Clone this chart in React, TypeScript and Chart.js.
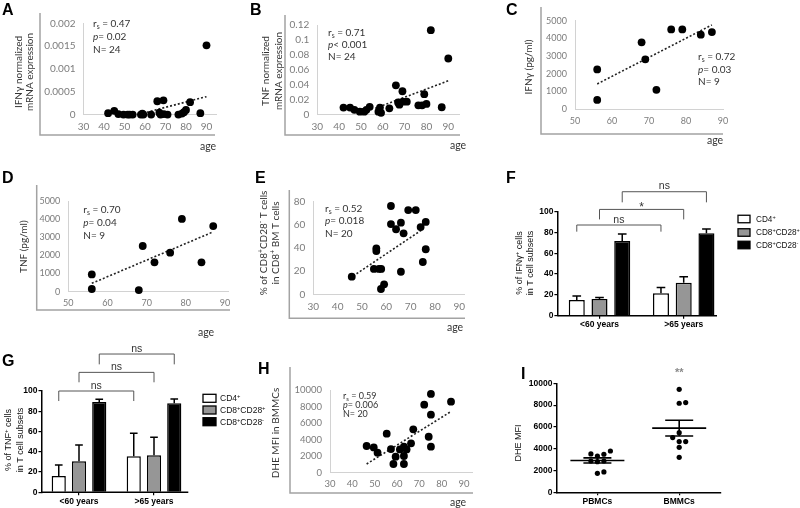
import { useEffect, useRef } from 'react';
import { Chart, registerables } from 'chart.js';

Chart.register(...registerables);

const PAGE_W = 800;
const PAGE_H = 508;

// ================= DATA =================
// Panels A & B (24 patients)
const agesAB = [42, 45, 47, 49.5, 51.5, 52.5, 54, 58, 58.7, 59.2, 63, 66, 67, 67.6, 69, 69.2, 71, 76.3, 78, 79, 80, 82, 87, 90];
const ifngMrnaA = [0.00004, 0.00009, 0.00002, 0.00001, 0.00001, 0.00001, 0.00001, 0.00001, 0.00003, 0.00001, 0.00001, 0.0003, 0.00005, 0.00001, 0.00032, 0.00002, 0.00001, 0.00001, 0.00003, 0.00006, 0.00011, 0.00028, 0.00004, 0.00152];
const trendAgeA = [59, 90];
const trendA = [0.00004, 0.0004];
const yTicksA = [0, 0.0005, 0.001, 0.0015, 0.002];
const xTicksAB = [30, 40, 50, 60, 70, 80, 90];

const tnfMrnaB = [0.009, 0.009, 0.006, 0.0035, 0.0035, 0.006, 0.01, 0.0035, 0.009, 0.002, 0.008, 0.039, 0.016, 0.013, 0.031, 0.017, 0.017, 0.012, 0.012, 0.027, 0.014, 0.113, 0.0095, 0.075];
const trendAgeB = [56.5, 90];
const trendB = [0.008, 0.045];
const yTicksB = [0, 0.02, 0.04, 0.06, 0.08, 0.1, 0.12];

// Panels C & D (9 patients)
const agesCD = [56, 56, 68, 69, 72, 76, 79, 84, 87];
const ifngC = [2250, 530, 3780, 2820, 1100, 4510, 4510, 4210, 4360];
const trendAgeC = [56, 87];
const trendC = [1430, 4760];
const tnfD = [955, 150, 90, 2520, 1620, 2150, 4010, 1620, 3620];
const trendAgeD = [56, 87];
const trendD = [460, 3300];
const yTicksCD = [0, 1000, 2000, 3000, 4000, 5000];
const xTicksCD = [50, 60, 70, 80, 90];

// Panel E (20 patients)
const agesE = [45.8, 54.9, 57.0, 57.9, 55.9, 55.9, 57.8, 59.1, 61.9, 61.9, 64.0, 66.0, 67.1, 66.0, 69.0, 72.1, 74.1, 76.2, 76.2, 75.0];
const cd28negE = [15.2, 21.9, 21.9, 21.9, 39.7, 37.4, 4.6, 8.6, 76.3, 60.7, 56.2, 61.9, 52.7, 19.5, 72.8, 72.8, 58.1, 62.5, 38.9, 27.9];
const trendAgeE = [46.4, 75];
const trendE = [15.8, 56.2];
const yTicksE = [0, 20, 40, 60, 80];

// Panel H (20 patients)
const agesH = [46.4, 49.6, 51.3, 55.4, 57.3, 58.4, 59.4, 61.3, 63.1, 63.1, 63.1, 64.3, 66.3, 67.3, 72.2, 75.2, 74.2, 75.2, 75.2, 84.2];
const dheH = [3230, 3060, 2420, 4720, 2860, 1050, 1940, 2820, 3150, 2020, 1050, 2820, 3550, 5240, 8230, 9520, 4350, 7020, 3150, 8590];
const trendAgeH = [46.4, 84.2];
const trendH = [1050, 7400];
const yTicksH = [0, 2000, 4000, 6000, 8000, 10000];

// Panels F & G (bar charts)
const groupLabels = ['<60 years', '>65 years'];
const subsetLabels = ['CD4^+', 'CD8^+CD28^+', 'CD8^+CD28^-'];
const subsetColors = ['#ffffff', '#969696', '#000000'];
const ifngCD4 = [15.1, 21.5];
const ifngCD4Err = [3.8, 5.7];
const ifngCD28pos = [16.0, 31.7];
const ifngCD28posErr = [1.6, 5.8];
const ifngCD28neg = [71.8, 79.2];
const ifngCD28negErr = [6.7, 4.1];
const bracketLevelsF = [87.2, 102.2, 119.2];
const bracketDropsF = [6.4, 9.6, 10.2];
const bracketLabelsF = ['ns', '*', 'ns'];

const tnfCD4 = [16.1, 35.5];
const tnfCD4Err = [10.9, 22.7];
const tnfCD28pos = [30.6, 36.5];
const tnfCD28posErr = [16.1, 17.8];
const tnfCD28neg = [89.1, 87.8];
const tnfCD28negErr = [2.7, 4.3];
const bracketLevelsG = [100, 118.4, 136.5];
const bracketDropsG = [9.9, 9.8, 10.2];
const bracketLabelsG = ['ns', 'ns', 'ns'];
const yTicksPct = [0, 20, 40, 60, 80, 100];

// Panel I
const cellLabels = ['PBMCs', 'BMMCs'];
const dhePBMC = [3790, 3330, 3490, 3520, 2870, 2810, 2870, 1740, 1870];
const dheBMMC = [9450, 8230, 8170, 5470, 5020, 4650, 4650, 4130, 3210];
const sigLabelI = '**';
const sigLevelI = 11150;
const yTicksI = [0, 2000, 4000, 6000, 8000, 10000];

// ================= STYLE =================
const XL = "Lato, 'DejaVu Sans', sans-serif";
const GP = "'Liberation Sans', Arial, 'DejaVu Sans', sans-serif";
const TICK_XL = '#7c7c7c';
const TEXT_XL = '#333333';
const INNER = '#d2d2d2';
const FRAME = '#a3a3a3';

type Area = { l: number; t: number; r: number; b: number };

function layoutFor(area: Area, yW: number, xH: number) {
  return {
    autoPadding: false,
    padding: { left: area.l - yW, top: area.t, right: PAGE_W - area.r, bottom: PAGE_H - area.b - xH },
  };
}

const fmt = (v: number) => String(parseFloat(Number(v).toPrecision(8)));

// ---------- rich text ----------
type Seg = { t: string; sup?: boolean; sub?: boolean; it?: boolean };
function parseRich(s: string): Seg[] {
  const out: Seg[] = [];
  let it = false;
  let buf = '';
  const flush = () => {
    if (buf) { out.push({ t: buf, it }); buf = ''; }
  };
  for (let i = 0; i < s.length; i++) {
    const c = s[i];
    if (c === '~') { flush(); it = !it; }
    else if (c === '^' || c === '_') {
      flush();
      out.push({ t: s[i + 1], sup: c === '^', sub: c === '_', it });
      i++;
    } else buf += c;
  }
  flush();
  return out;
}

type TxtOpt = { size: number; family: string; color: string; weight?: string; align?: 'left' | 'center' | 'right'; rotate?: boolean };
function drawRich(ctx: CanvasRenderingContext2D, s: string, x: number, y: number, o: TxtOpt) {
  const segs = parseRich(s);
  const fontOf = (g: Seg) => `${g.it ? 'italic ' : ''}${o.weight || 'normal'} ${g.sup || g.sub ? o.size * 0.68 : o.size}px ${o.family}`;
  ctx.save();
  let w = 0;
  for (const g of segs) { ctx.font = fontOf(g); w += ctx.measureText(g.t).width; }
  ctx.translate(x, y);
  if (o.rotate) ctx.rotate(-Math.PI / 2);
  let cx = o.align === 'center' ? -w / 2 : o.align === 'right' ? -w : 0;
  ctx.textBaseline = 'alphabetic';
  ctx.textAlign = 'left';
  ctx.fillStyle = o.color;
  for (const g of segs) {
    ctx.font = fontOf(g);
    const dy = g.sup ? -o.size * 0.38 : g.sub ? o.size * 0.22 : 0;
    ctx.fillText(g.t, cx, dy);
    cx += ctx.measureText(g.t).width;
  }
  ctx.restore();
}

function midText(ctx: CanvasRenderingContext2D, s: string, x: number, cy: number, o: TxtOpt) {
  drawRich(ctx, s, x, cy + o.size * 0.36, o);
}
function rotTitle(ctx: CanvasRenderingContext2D, s: string, cx: number, cy: number, o: TxtOpt) {
  drawRich(ctx, s, cx + o.size * 0.36, cy, { ...o, rotate: true, align: 'center' });
}
function letter(ctx: CanvasRenderingContext2D, t: string, x: number, baseline: number) {
  drawRich(ctx, t, x, baseline, { size: 16, family: GP, color: '#000', weight: 'bold' });
}

const baseOptions = {
  responsive: false,
  maintainAspectRatio: false,
  animation: false as const,
  events: [] as any[],
  devicePixelRatio: 1,
};
const noPlugins = { legend: { display: false }, tooltip: { enabled: false }, title: { display: false } };

// ================= EXCEL-STYLE SCATTER PANELS =================
interface ExcelPanel {
  area: Area;
  xMin: number; xMax: number; xTicks: number[];
  yMax: number; yTicks: number[];
  xs: number[]; ys: number[]; tx: number[]; ty: number[];
  frame: { x: number; top: number; y: number; right: number };
  letter: { t: string; x: number; y: number };
  yTitle: { lines: string[]; xs: number[]; cy: number };
  stats: { lines: string[]; x: number; ys: number[]; size: number };
  age: { x: number; y: number };
  tickSize: number;
}

function excelConfig(p: ExcelPanel): any {
  const yW = 40, xH = 25;
  return {
    type: 'scatter',
    data: {
      datasets: [
        {
          data: p.xs.map((x, i) => ({ x, y: p.ys[i] })),
          pointRadius: 3.9, pointBackgroundColor: '#000', pointBorderWidth: 0, clip: false, showLine: false,
        },
        {
          data: p.tx.map((x, i) => ({ x, y: p.ty[i] })),
          showLine: true, borderColor: '#222', borderWidth: 1.6, borderDash: [2, 2], pointRadius: 0, clip: false, fill: false,
        },
      ],
    },
    options: {
      ...baseOptions,
      layout: layoutFor(p.area, yW, xH),
      plugins: noPlugins,
      scales: {
        x: {
          type: 'linear', min: p.xMin, max: p.xMax,
          afterFit: (s: any) => { s.height = xH; },
          afterBuildTicks: (s: any) => { s.ticks = p.xTicks.map((v) => ({ value: v })); },
          grid: { display: false, drawTicks: false },
          border: { display: true, color: INNER, width: 1 },
          ticks: { font: { family: XL, size: p.tickSize }, color: TICK_XL, padding: 6, maxRotation: 0, autoSkip: false, callback: (v: any) => fmt(v) },
        },
        y: {
          type: 'linear', min: 0, max: p.yMax,
          afterFit: (s: any) => { s.width = yW; },
          afterBuildTicks: (s: any) => { s.ticks = p.yTicks.map((v) => ({ value: v })); },
          grid: { display: false, drawTicks: false },
          border: { display: true, color: INNER, width: 1 },
          ticks: { font: { family: XL, size: p.tickSize }, color: TICK_XL, padding: 8, autoSkip: false, callback: (v: any) => fmt(v) },
        },
      },
    },
    plugins: [
      {
        id: 'decor',
        afterDraw(chart: any) {
          const ctx: CanvasRenderingContext2D = chart.ctx;
          ctx.save();
          ctx.strokeStyle = FRAME;
          ctx.lineWidth = 1.5;
          ctx.beginPath();
          ctx.moveTo(p.frame.x, p.frame.top);
          ctx.lineTo(p.frame.x, p.frame.y);
          ctx.lineTo(p.frame.right, p.frame.y);
          ctx.stroke();
          ctx.restore();
          letter(ctx, p.letter.t, p.letter.x, p.letter.y);
          p.yTitle.lines.forEach((ln, i) =>
            rotTitle(ctx, ln, p.yTitle.xs[i], p.yTitle.cy, { size: 10, family: XL, color: TEXT_XL }));
          p.stats.lines.forEach((ln, i) =>
            midText(ctx, ln, p.stats.x, p.stats.ys[i], { size: p.stats.size, family: XL, color: TEXT_XL }));
          midText(ctx, 'age', p.age.x, p.age.y, { size: 10.5, family: XL, color: TEXT_XL, align: 'center' });
        },
      },
    ],
  };
}

// ================= GRAPHPAD BAR PANELS =================
interface BarPanel {
  area: Area;
  axisEnd: number;
  values: number[][];
  errs: number[][];
  levels: number[]; drops: number[]; labels: string[];
  catPct: number; barPct: number;
  letter: { t: string; x: number; y: number };
  yTitle: { lines: string[]; xs: number[]; cy: number };
  legend: { x: number; ys: number[]; w: number; h: number; textX: number; size: number };
}

function barConfig(p: BarPanel): any {
  const yW = 30, xH = 14;
  return {
    type: 'bar',
    data: {
      labels: groupLabels,
      datasets: p.values.map((vals, i) => ({
        label: subsetLabels[i],
        data: vals,
        backgroundColor: subsetColors[i],
        borderColor: '#000',
        borderWidth: 1.5,
        categoryPercentage: p.catPct,
        barPercentage: p.barPct,
      })),
    },
    options: {
      ...baseOptions,
      layout: layoutFor(p.area, yW, xH),
      plugins: noPlugins,
      scales: {
        x: {
          type: 'category', offset: true,
          afterFit: (s: any) => { s.height = xH; },
          grid: { display: true, drawOnChartArea: false, drawTicks: true, tickLength: 3, offset: false, color: '#000', lineWidth: 1.2 },
          border: { display: false },
          ticks: { font: { family: GP, size: 8.5, weight: 'bold' }, color: '#000', padding: 1, maxRotation: 0, autoSkip: false },
        },
        y: {
          type: 'linear', min: 0, max: 100,
          afterFit: (s: any) => { s.width = yW; },
          afterBuildTicks: (s: any) => { s.ticks = yTicksPct.map((v) => ({ value: v })); },
          grid: { display: true, drawOnChartArea: false, drawTicks: true, tickLength: 3, color: '#000', lineWidth: 1.2 },
          border: { display: true, color: '#000', width: 1.5 },
          ticks: { font: { family: GP, size: 8.5, weight: 'bold' }, color: '#000', padding: 1, autoSkip: false },
        },
      },
    },
    plugins: [
      {
        id: 'errbars',
        afterDatasetsDraw(chart: any) {
          const ctx: CanvasRenderingContext2D = chart.ctx;
          const ys = chart.scales.y;
          ctx.save();
          ctx.strokeStyle = '#000';
          ctx.lineWidth = 1.5;
          p.errs.forEach((errArr, di) => {
            const meta = chart.getDatasetMeta(di);
            meta.data.forEach((bar: any, j: number) => {
              const top = ys.getPixelForValue(p.values[di][j] + errArr[j]);
              const cap = bar.width * 0.27;
              ctx.beginPath();
              ctx.moveTo(bar.x, bar.y);
              ctx.lineTo(bar.x, top);
              ctx.moveTo(bar.x - cap, top);
              ctx.lineTo(bar.x + cap, top);
              ctx.stroke();
            });
          });
          ctx.restore();
        },
        afterDraw(chart: any) {
          const ctx: CanvasRenderingContext2D = chart.ctx;
          const ys = chart.scales.y;
          const ca = chart.chartArea;
          ctx.save();
          ctx.strokeStyle = '#000';
          ctx.lineWidth = 1.5;
          ctx.beginPath();
          ctx.moveTo(ca.left, ca.bottom);
          ctx.lineTo(p.axisEnd, ca.bottom);
          ctx.stroke();
          ctx.strokeStyle = '#555';
          ctx.lineWidth = 1;
          p.levels.forEach((lv, di) => {
            const meta = chart.getDatasetMeta(di);
            const x1 = meta.data[0].x, x2 = meta.data[1].x;
            const y = ys.getPixelForValue(lv);
            const yd = ys.getPixelForValue(lv - p.drops[di]);
            ctx.beginPath();
            ctx.moveTo(x1, yd);
            ctx.lineTo(x1, y);
            ctx.lineTo(x2, y);
            ctx.lineTo(x2, yd);
            ctx.stroke();
            const lab = p.labels[di];
            const star = lab.indexOf('*') >= 0;
            drawRich(ctx, lab, (x1 + x2) / 2, star ? y + 2 : y - 2.5, { size: star ? 12 : 10.5, family: GP, color: '#333', align: 'center' });
          });
          ctx.restore();
          ctx.save();
          subsetLabels.forEach((lab, i) => {
            const cy = p.legend.ys[i];
            ctx.fillStyle = subsetColors[i];
            ctx.fillRect(p.legend.x, cy - p.legend.h / 2, p.legend.w, p.legend.h);
            ctx.strokeStyle = '#000';
            ctx.lineWidth = 1.3;
            ctx.strokeRect(p.legend.x, cy - p.legend.h / 2, p.legend.w, p.legend.h);
            midText(ctx, lab, p.legend.textX, cy, { size: p.legend.size, family: GP, color: '#111' });
          });
          ctx.restore();
          letter(ctx, p.letter.t, p.letter.x, p.letter.y);
          p.yTitle.lines.forEach((ln, i) =>
            rotTitle(ctx, ln, p.yTitle.xs[i], p.yTitle.cy, { size: 9, family: GP, color: '#111' }));
        },
      },
    ],
  };
}

// ================= PANEL I (dot plot) =================
function mean(a: number[]) { return a.reduce((s, v) => s + v, 0) / a.length; }
function sem(a: number[]) {
  const m = mean(a);
  const sd = Math.sqrt(a.reduce((s, v) => s + (v - m) * (v - m), 0) / (a.length - 1));
  return sd / Math.sqrt(a.length);
}
function swarm(values: number[], pxPerUnitY: number, unitsPerPxX: number, d: number, dy: number): number[] {
  const order = values.map((_, i) => i).sort((a, b) => values[a] - values[b]);
  const placed: { c: number; y: number }[] = [];
  const res = new Array(values.length).fill(0);
  for (const i of order) {
    const y = values[i] * pxPerUnitY;
    for (let k = 0; k < 12; k++) {
      const c = k === 0 ? 0 : (k % 2 ? 1 : -1) * Math.ceil(k / 2);
      if (placed.every((q) => q.c !== c || Math.abs(q.y - y) >= dy)) {
        placed.push({ c, y });
        res[i] = c * d * unitsPerPxX;
        break;
      }
    }
  }
  return res;
}

function dotConfig(): any {
  const area: Area = { l: 556.5, t: 383.3, r: 720.1, b: 492.3 };
  const yW = 30, xH = 14;
  const xMin = 0.5, xMax = 2.5, yMax = 10000;
  const pxY = (area.b - area.t) / yMax;
  const unitsX = (xMax - xMin) / (area.r - area.l);
  const groups = [dhePBMC, dheBMMC];
  const offs = groups.map((g) => swarm(g, pxY, unitsX, 6.5, 5.5));
  return {
    type: 'scatter',
    data: {
      datasets: groups.map((g, gi) => ({
        label: cellLabels[gi],
        data: g.map((v, i) => ({ x: gi + 1 + offs[gi][i], y: v })),
        pointRadius: 2.6, pointBackgroundColor: '#000', pointBorderWidth: 0, clip: false,
      })),
    },
    options: {
      ...baseOptions,
      layout: layoutFor(area, yW, xH),
      plugins: noPlugins,
      scales: {
        x: {
          type: 'linear', min: xMin, max: xMax,
          afterFit: (s: any) => { s.height = xH; },
          afterBuildTicks: (s: any) => { s.ticks = cellLabels.map((_, i) => ({ value: i + 1 })); },
          grid: { display: true, drawOnChartArea: false, drawTicks: true, tickLength: 3, color: '#000', lineWidth: 1.2 },
          border: { display: true, color: '#000', width: 1.5 },
          ticks: { font: { family: GP, size: 8.5, weight: 'bold' }, color: '#000', padding: 1, maxRotation: 0, autoSkip: false, callback: (v: any) => cellLabels[Math.round(v) - 1] },
        },
        y: {
          type: 'linear', min: 0, max: yMax,
          afterFit: (s: any) => { s.width = yW; },
          afterBuildTicks: (s: any) => { s.ticks = yTicksI.map((v) => ({ value: v })); },
          grid: { display: true, drawOnChartArea: false, drawTicks: true, tickLength: 3, color: '#000', lineWidth: 1.2 },
          border: { display: true, color: '#000', width: 1.5 },
          ticks: { font: { family: GP, size: 8.5, weight: 'bold' }, color: '#000', padding: 1, autoSkip: false, callback: (v: any) => fmt(v) },
        },
      },
    },
    plugins: [
      {
        id: 'meansem',
        afterDatasetsDraw(chart: any) {
          const ctx: CanvasRenderingContext2D = chart.ctx;
          const xs = chart.scales.x, ys = chart.scales.y;
          ctx.save();
          ctx.strokeStyle = '#000';
          ctx.lineWidth = 1.6;
          groups.forEach((g, gi) => {
            const cx = xs.getPixelForValue(gi + 1);
            const m = mean(g), e = sem(g);
            const ym = ys.getPixelForValue(m), yh = ys.getPixelForValue(m + e), yl = ys.getPixelForValue(m - e);
            ctx.beginPath();
            ctx.moveTo(cx - 27, ym); ctx.lineTo(cx + 27, ym);
            ctx.moveTo(cx - 14, yh); ctx.lineTo(cx + 14, yh);
            ctx.moveTo(cx - 14, yl); ctx.lineTo(cx + 14, yl);
            ctx.moveTo(cx, yh); ctx.lineTo(cx, yl);
            ctx.stroke();
          });
          ctx.restore();
          drawRich(ctx, sigLabelI, xs.getPixelForValue(2), ys.getPixelForValue(sigLevelI) + 5, { size: 11, family: GP, color: '#8a8a8a', weight: 'bold', align: 'center' });
          letter(ctx, 'I', 521, 379);
          rotTitle(ctx, 'DHE MFI', 518, 443, { size: 9, family: GP, color: '#111' });
        },
      },
    ],
  };
}

// ================= PANEL CONFIGS =================
const makers: (() => any)[] = [
  () => excelConfig({
    area: { l: 83.5, t: 23.3, r: 216.75, b: 115 },
    xMin: 30, xMax: 95, xTicks: xTicksAB, yMax: 0.002, yTicks: yTicksA,
    xs: agesAB, ys: ifngMrnaA, tx: trendAgeA, ty: trendA,
    frame: { x: 40, top: 13, y: 135, right: 215 },
    letter: { t: 'A', x: 2, y: 15 },
    yTitle: { lines: ['IFNγ normalized', 'mRNA expression'], xs: [18, 29.5], cy: 72 },
    stats: { lines: ['r_s = 0.47', '~p~= 0.02', 'N= 24'], x: 93, ys: [23.5, 36, 49], size: 10 },
    age: { x: 208, y: 146 },
    tickSize: 10,
  }),
  () => excelConfig({
    area: { l: 317.3, t: 25, r: 459.2, b: 114.3 },
    xMin: 30, xMax: 95, xTicks: xTicksAB, yMax: 0.12, yTicks: yTicksB,
    xs: agesAB, ys: tnfMrnaB, tx: trendAgeB, ty: trendB,
    frame: { x: 285, top: 15, y: 135, right: 460 },
    letter: { t: 'B', x: 250, y: 15 },
    yTitle: { lines: ['TNF normalized', 'mRNA expression'], xs: [265, 278], cy: 71 },
    stats: { lines: ['r_s = 0.71', '~p~< 0.001', 'N= 24'], x: 328, ys: [32.3, 44.3, 56.7], size: 10 },
    age: { x: 458, y: 145 },
    tickSize: 10,
  }),
  () => excelConfig({
    area: { l: 575, t: 20.7, r: 723, b: 109.3 },
    xMin: 50, xMax: 90, xTicks: xTicksCD, yMax: 5000, yTicks: yTicksCD,
    xs: agesCD, ys: ifngC, tx: trendAgeC, ty: trendC,
    frame: { x: 541, top: 7, y: 134, right: 723 },
    letter: { t: 'C', x: 506, y: 15 },
    yTitle: { lines: ['IFNγ (pg/ml)'], xs: [528], cy: 67 },
    stats: { lines: ['r_s = 0.72', '~p~= 0.03', 'N= 9'], x: 698, ys: [56, 69.3, 81], size: 10 },
    age: { x: 715, y: 140 },
    tickSize: 9,
  }),
  () => excelConfig({
    area: { l: 68.3, t: 201, r: 228.9, b: 291.7 },
    xMin: 50, xMax: 91, xTicks: xTicksCD, yMax: 5000, yTicks: yTicksCD,
    xs: agesCD, ys: tnfD, tx: trendAgeD, ty: trendD,
    frame: { x: 36.7, top: 185, y: 310, right: 230 },
    letter: { t: 'D', x: 2, y: 183 },
    yTitle: { lines: ['TNF (pg/ml)'], xs: [23.3], cy: 246.7 },
    stats: { lines: ['r_s = 0.70', '~p~= 0.04', 'N= 9'], x: 83.3, ys: [209.3, 222.3, 235], size: 10 },
    age: { x: 206, y: 332 },
    tickSize: 9,
  }),
  () => excelConfig({
    area: { l: 313.3, t: 201.7, r: 464.2, b: 294.3 },
    xMin: 30, xMax: 92, xTicks: xTicksAB, yMax: 80, yTicks: yTicksE,
    xs: agesE, ys: cd28negE, tx: trendAgeE, ty: trendE,
    frame: { x: 289.3, top: 190, y: 318.3, right: 465 },
    letter: { t: 'E', x: 255, y: 183 },
    yTitle: { lines: ['% of CD8^+CD28^- T cells', 'in CD8^+ BM T cells'], xs: [263, 275], cy: 243 },
    stats: { lines: ['r_s = 0.52', '~p~= 0.018', 'N= 20'], x: 325, ys: [208.3, 220.7, 233.3], size: 10 },
    age: { x: 455, y: 327 },
    tickSize: 10,
  }),
  () => barConfig({
    area: { l: 557.4, t: 211.7, r: 725.8, b: 315.7 },
    axisEnd: 717,
    values: [ifngCD4, ifngCD28pos, ifngCD28neg],
    errs: [ifngCD4Err, ifngCD28posErr, ifngCD28negErr],
    levels: bracketLevelsF, drops: bracketDropsF, labels: bracketLabelsF,
    catPct: 0.81, barPct: 0.705,
    letter: { t: 'F', x: 506, y: 183 },
    yTitle: { lines: ['% of IFNγ^+ cells', 'in T cell subsets'], xs: [519, 530], cy: 263 },
    legend: { x: 738, ys: [219, 232.5, 245], w: 12, h: 7.5, textX: 756, size: 8.2 },
  }),
  () => barConfig({
    area: { l: 41.5, t: 391, r: 191.5, b: 492.3 },
    axisEnd: 188.3,
    values: [tnfCD4, tnfCD28pos, tnfCD28neg],
    errs: [tnfCD4Err, tnfCD28posErr, tnfCD28negErr],
    levels: bracketLevelsG, drops: bracketDropsG, labels: bracketLabelsG,
    catPct: 0.81, barPct: 0.7,
    letter: { t: 'G', x: 2, y: 366 },
    yTitle: { lines: ['% of TNF^+ cells', 'in T cell subsets'], xs: [8, 19.5], cy: 440 },
    legend: { x: 203, ys: [398.3, 410, 421.7], w: 13, h: 8, textX: 220, size: 8.5 },
  }),
  () => excelConfig({
    area: { l: 330, t: 390, r: 472.9, b: 472.7 },
    xMin: 30, xMax: 94, xTicks: xTicksAB, yMax: 10000, yTicks: yTicksH,
    xs: agesH, ys: dheH, tx: trendAgeH, ty: trendH,
    frame: { x: 290, top: 367, y: 493, right: 473 },
    letter: { t: 'H', x: 258, y: 374 },
    yTitle: { lines: ['DHE MFI in BMMCs'], xs: [275], cy: 433 },
    stats: { lines: ['r_s = 0.59', '~p~= 0.006', 'N= 20'], x: 343, ys: [396, 405, 413.5], size: 9 },
    age: { x: 458, y: 502 },
    tickSize: 9.5,
  }),
  dotConfig,
];

function ChartCanvas({ make }: { make: () => any }) {
  const ref = useRef<HTMLCanvasElement>(null);
  useEffect(() => {
    if (!ref.current) return;
    const chart = new Chart(ref.current, make());
    return () => chart.destroy();
  }, [make]);
  return (
    <canvas
      ref={ref}
      width={PAGE_W}
      height={PAGE_H}
      style={{ position: 'absolute', left: 0, top: 0, width: PAGE_W, height: PAGE_H, pointerEvents: 'none' }}
    />
  );
}

export default function App() {
  return (
    <div style={{ position: 'fixed', left: 0, top: 0, width: PAGE_W, height: PAGE_H, background: '#fff', overflow: 'hidden' }}>
      {makers.map((mk, i) => (
        <ChartCanvas key={i} make={mk} />
      ))}
    </div>
  );
}
